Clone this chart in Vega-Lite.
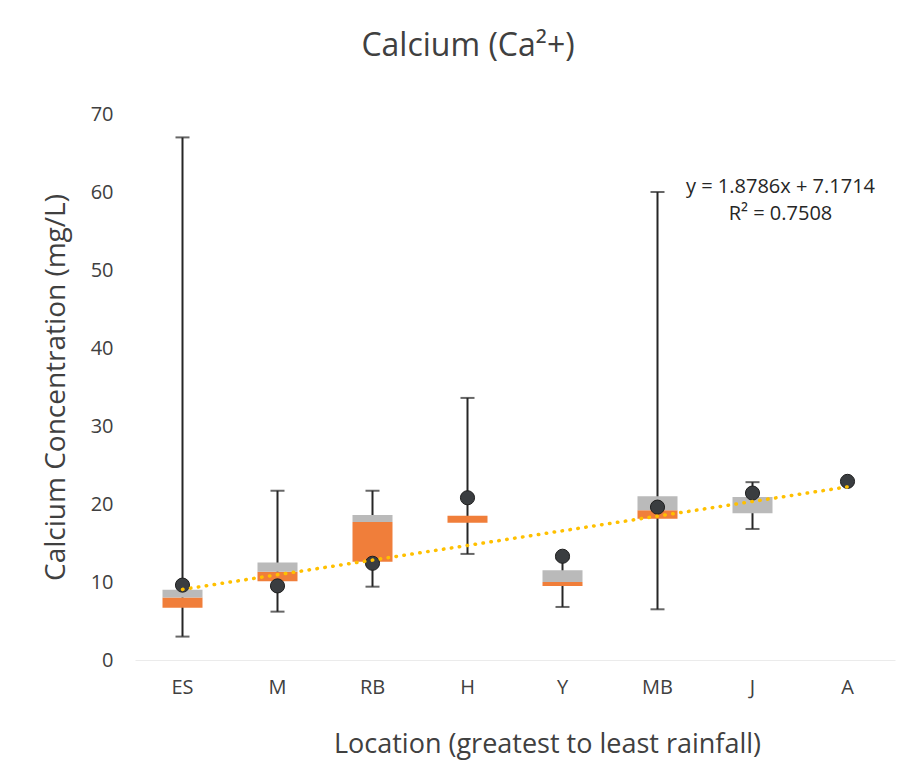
{
  "$schema": "https://vega.github.io/schema/vega-lite/v6.json",
  "autosize": "none",
  "width": 760,
  "height": 546,
  "padding": {"left": 135, "top": 114, "right": 18, "bottom": 116},
  "background": "white",
  "config": {
    "font": "Open Sans",
    "view": {"stroke": null},
    "axis": {"labelColor": "#404040", "titleColor": "#404040", "labelFont": "Open Sans", "titleFont": "Open Sans", "titleFontWeight": "normal"}
  },
  "title": {"text": "Calcium (Ca²+)", "fontSize": 32, "font": "Open Sans", "fontWeight": "normal", "color": "#404040", "anchor": "middle", "dx": -47, "offset": 41},
  "datasets": {
    "stats": [
      {"loc": "ES", "min": 3.0, "q1": 6.7, "median": 8.0, "q3": 9.0, "max": 67.0, "mean": 9.6},
      {"loc": "M", "min": 6.2, "q1": 10.1, "median": 11.3, "q3": 12.5, "max": 21.7, "mean": 9.5},
      {"loc": "RB", "min": 9.4, "q1": 12.6, "median": 17.7, "q3": 18.6, "max": 21.7, "mean": 12.4},
      {"loc": "H", "min": 13.6, "q1": 17.6, "median": 18.5, "q3": 18.5, "max": 33.6, "mean": 20.8},
      {"loc": "Y", "min": 6.8, "q1": 9.5, "median": 10.0, "q3": 11.5, "max": 13.0, "mean": 13.3},
      {"loc": "MB", "min": 6.5, "q1": 18.1, "median": 19.2, "q3": 21.0, "max": 60.0, "mean": 19.6},
      {"loc": "J", "min": 16.8, "q1": 18.8, "median": 18.8, "q3": 20.9, "max": 22.8, "mean": 21.4},
      {"loc": "A", "min": null, "q1": null, "median": null, "q3": null, "max": null, "mean": 22.9}
    ],
    "trend": [
      {"loc": "ES", "value": 9.05},
      {"loc": "A", "value": 22.2}
    ],
    "notes": [
      {"loc": "J", "y": 60.6, "text": "y = 1.8786x + 7.1714"},
      {"loc": "J", "y": 57.2, "text": "R² = 0.7508"}
    ]
  },
  "encoding": {
    "x": {
      "field": "loc", "type": "nominal",
      "sort": ["ES", "M", "RB", "H", "Y", "MB", "J", "A"],
      "scale": {"domain": ["ES", "M", "RB", "H", "Y", "MB", "J", "A"], "paddingInner": 0, "paddingOuter": 0},
      "axis": {"title": "Location (greatest to least rainfall)", "labelAngle": 0, "labelFontSize": 20, "labelPadding": 17, "ticks": false, "domain": true, "domainColor": "#EBEBEB", "domainWidth": 1, "titleFontSize": 27, "titlePadding": 34, "titleX": 412}
    }
  },
  "layer": [
    {
      "data": {"name": "stats"},
      "mark": {"type": "rule", "color": "#262626", "strokeWidth": 2},
      "encoding": {
        "y": {"field": "min", "type": "quantitative", "scale": {"domain": [0, 70]}, "axis": {"title": "Calcium Concentration (mg/L)", "values": [0, 10, 20, 30, 40, 50, 60, 70], "grid": false, "ticks": false, "domain": false, "labelFontSize": 20, "labelPadding": 22, "titleFontSize": 28, "titlePadding": 20}},
        "y2": {"field": "max"}
      }
    },
    {
      "data": {"name": "stats"},
      "mark": {"type": "bar", "color": "#F07E3A", "size": 40},
      "encoding": {
        "y": {"field": "q1", "type": "quantitative"},
        "y2": {"field": "median"}
      }
    },
    {
      "data": {"name": "stats"},
      "mark": {"type": "bar", "color": "#BABABA", "size": 40},
      "encoding": {
        "y": {"field": "median", "type": "quantitative"},
        "y2": {"field": "q3"}
      }
    },
    {
      "data": {"name": "stats"},
      "mark": {"type": "tick", "color": "#262626", "thickness": 2, "size": 14},
      "encoding": {"y": {"field": "min", "type": "quantitative"}}
    },
    {
      "data": {"name": "stats"},
      "mark": {"type": "tick", "color": "#262626", "thickness": 2, "size": 14},
      "encoding": {"y": {"field": "max", "type": "quantitative"}}
    },
    {
      "data": {"name": "stats"},
      "mark": {"type": "point", "filled": true, "shape": "circle", "size": 200, "color": "#3A3D40", "opacity": 1, "stroke": "#1F1F1F", "strokeWidth": 1},
      "encoding": {"y": {"field": "mean", "type": "quantitative"}}
    },
    {
      "data": {"name": "trend"},
      "mark": {"type": "line", "color": "#FFC000", "strokeWidth": 3.5, "strokeDash": [0.5, 7.5], "strokeCap": "round"},
      "encoding": {"y": {"field": "value", "type": "quantitative"}}
    },
    {
      "data": {"name": "notes"},
      "mark": {"type": "text", "fontSize": 20, "color": "#262626", "align": "center", "xOffset": 28, "font": "Open Sans"},
      "encoding": {
        "y": {"field": "y", "type": "quantitative"},
        "text": {"field": "text"}
      }
    }
  ]
}
